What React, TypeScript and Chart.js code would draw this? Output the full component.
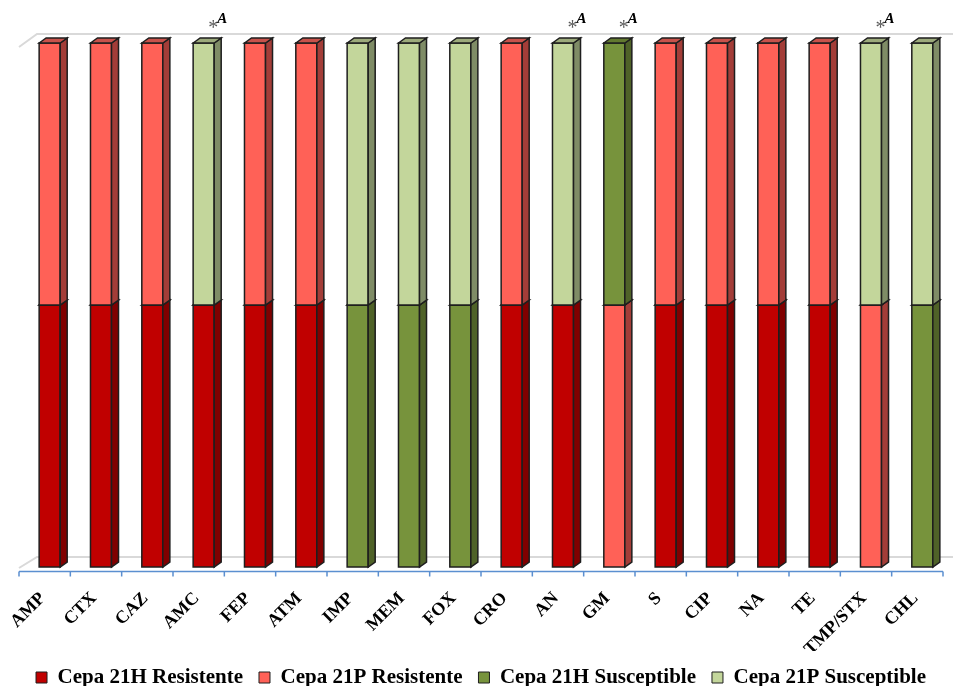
import React, { useEffect, useRef } from "react";
import { Chart, registerables } from "chart.js";

Chart.register(...registerables);

const categories = ["AMP", "CTX", "CAZ", "AMC", "FEP", "ATM", "IMP", "MEM", "FOX", "CRO", "AN", "GM", "S", "CIP", "NA", "TE", "TMP/STX", "CHL"];
const seriesNames = ["Cepa 21H Resistente", "Cepa 21P Resistente", "Cepa 21H Susceptible", "Cepa 21P Susceptible"];
const h21Resistente = [1, 1, 1, 1, 1, 1, 0, 0, 0, 1, 1, 0, 1, 1, 1, 1, 0, 0];
const p21Resistente = [1, 1, 1, 0, 1, 1, 0, 0, 0, 1, 0, 1, 1, 1, 1, 1, 1, 0];
const h21Susceptible = [0, 0, 0, 0, 0, 0, 1, 1, 1, 0, 0, 1, 0, 0, 0, 0, 0, 1];
const p21Susceptible = [0, 0, 0, 1, 0, 0, 1, 1, 1, 0, 1, 0, 0, 0, 0, 0, 1, 1];
const annotated = ["AMC", "AN", "GM", "TMP/STX"];
const annotationStar = "*";
const annotationLetter = "A";

const frontColors = ["#C00000", "#FF6157", "#77933C", "#C3D69B"];
const sideColors = ["#800000", "#A33D38", "#4F6228", "#7F8C66"];
const topColors = ["#9E1A1A", "#C8524B", "#62792F", "#9CAA7B"];
const OUTLINE = "#1E1E1E";
const SHIFT = 5;
const DX = 7;
const DY = 5;
const SERIF = "'Liberation Serif', 'Times New Roman', serif";

const bar3d = {
  id: "bar3d",
  beforeDatasetsDraw(chart: any) {
    const ctx = chart.ctx;
    const { left, top, bottom } = chart.chartArea;
    const xs = chart.scales.x;
    const ys = chart.scales.y;
    ctx.save();
    // back wall / floor lines
    ctx.strokeStyle = "#D9D9D9";
    ctx.lineWidth = 2;
    ctx.beginPath();
    ctx.moveTo(left, top + 4);
    ctx.lineTo(left + 18, top - 9);
    ctx.lineTo(chart.width, top - 9);
    ctx.stroke();
    ctx.beginPath();
    ctx.moveTo(left, bottom + 1);
    ctx.lineTo(left + 18, bottom - 10);
    ctx.lineTo(chart.width, bottom - 10);
    ctx.stroke();

    // axis line with boundary ticks
    const cw = xs.getPixelForValue(1) - xs.getPixelForValue(0);
    const ay = bottom + 4.5;
    ctx.strokeStyle = "#5B8FD0";
    ctx.lineWidth = 1.5;
    ctx.beginPath();
    ctx.moveTo(xs.getPixelForValue(0) - cw / 2, ay);
    ctx.lineTo(xs.getPixelForValue(categories.length - 1) + cw / 2, ay);
    for (let i = 0; i <= categories.length; i++) {
      const x = xs.getPixelForValue(0) - cw / 2 + cw * i;
      ctx.moveTo(x, ay);
      ctx.lineTo(x, ay + 5);
    }
    ctx.stroke();

    // 3D bars
    ctx.lineWidth = 1.5;
    ctx.strokeStyle = OUTLINE;
    ctx.lineJoin = "miter";
    chart.data.datasets.forEach((ds: any, d: number) => {
      const meta = chart.getDatasetMeta(d);
      meta.data.forEach((el: any) => {
        const p = el.getProps(["x", "y", "base", "width"], true);
        const yT = Math.min(p.y, p.base);
        const yB = Math.max(p.y, p.base);
        if (yB - yT < 0.5) return;
        const xL = p.x - p.width / 2 + SHIFT;
        const xR = xL + p.width;
        // front
        ctx.fillStyle = frontColors[d];
        ctx.fillRect(xL, yT, p.width, yB - yT);
        ctx.strokeRect(xL, yT, p.width, yB - yT);
        // side
        ctx.beginPath();
        ctx.moveTo(xR, yT);
        ctx.lineTo(xR + DX, yT - DY);
        ctx.lineTo(xR + DX, yB - DY);
        ctx.lineTo(xR, yB);
        ctx.closePath();
        ctx.fillStyle = sideColors[d];
        ctx.fill();
        ctx.stroke();
        // top
        ctx.beginPath();
        ctx.moveTo(xL, yT);
        ctx.lineTo(xL + DX, yT - DY);
        ctx.lineTo(xR + DX, yT - DY);
        ctx.lineTo(xR, yT);
        ctx.closePath();
        ctx.fillStyle = topColors[d];
        ctx.fill();
        ctx.stroke();
      });
    });

    // annotations
    annotated.forEach((lab) => {
      const i = categories.indexOf(lab);
      const total = chart.data.datasets.reduce((s: number, ds: any) => s + ds.data[i], 0);
      const el = chart.getDatasetMeta(0).data[i];
      const p = el.getProps(["x", "width"], true);
      const xR = p.x - p.width / 2 + SHIFT + p.width;
      const yTop = ys.getPixelForValue(total);
      ctx.fillStyle = "#5A5A5A";
      ctx.font = `20px ${SERIF}`;
      ctx.textAlign = "center";
      ctx.textBaseline = "middle";
      ctx.fillText(annotationStar, xR - 1, yTop - 14);
      ctx.fillStyle = "#000000";
      ctx.font = `italic bold 15px ${SERIF}`;
      ctx.fillText(annotationLetter, xR + 8, yTop - 24);
    });
    ctx.restore();
    return false;
  },
};

export default function App() {
  const ref = useRef<HTMLCanvasElement>(null);
  useEffect(() => {
    const all = [h21Resistente, p21Resistente, h21Susceptible, p21Susceptible];
    const chart = new Chart(ref.current as HTMLCanvasElement, {
      type: "bar",
      data: {
        labels: categories,
        datasets: all.map((data, d) => ({
          label: seriesNames[d],
          data,
          backgroundColor: frontColors[d],
          borderColor: OUTLINE,
          borderWidth: 1,
          barPercentage: 0.41,
          categoryPercentage: 1,
        })),
      },
      options: {
        responsive: false,
        animation: false,
        events: [],
        layout: { padding: { left: 19, right: 10, top: 43, bottom: 0 } },
        scales: {
          x: {
            stacked: true,
            grid: { display: false },
            border: { display: false },
            ticks: {
              minRotation: 45,
              maxRotation: 45,
              autoSkip: false,
              padding: 13,
              labelOffset: -2,
              color: "#000",
              font: { family: SERIF, size: 18, weight: "bold" },
            },
            afterFit: (s: any) => {
              s.height = 84;
            },
          },
          y: { stacked: true, display: false, min: 0, max: 2 },
        },
        plugins: {
          tooltip: { enabled: false },
          legend: {
            display: true,
            position: "bottom",
            labels: {
              boxWidth: 11,
              boxHeight: 11,
              padding: 16,
              color: "#000",
              font: { family: SERIF, size: 21, weight: "bold" },
            },
          },
        },
      },
      plugins: [bar3d],
    } as any);
    return () => chart.destroy();
  }, []);
  return (
    <div style={{ position: "fixed", left: 0, top: 0, width: 953, height: 698, background: "#fff" }}>
      <canvas ref={ref} width={953} height={698} style={{ display: "block" }} />
    </div>
  );
}
